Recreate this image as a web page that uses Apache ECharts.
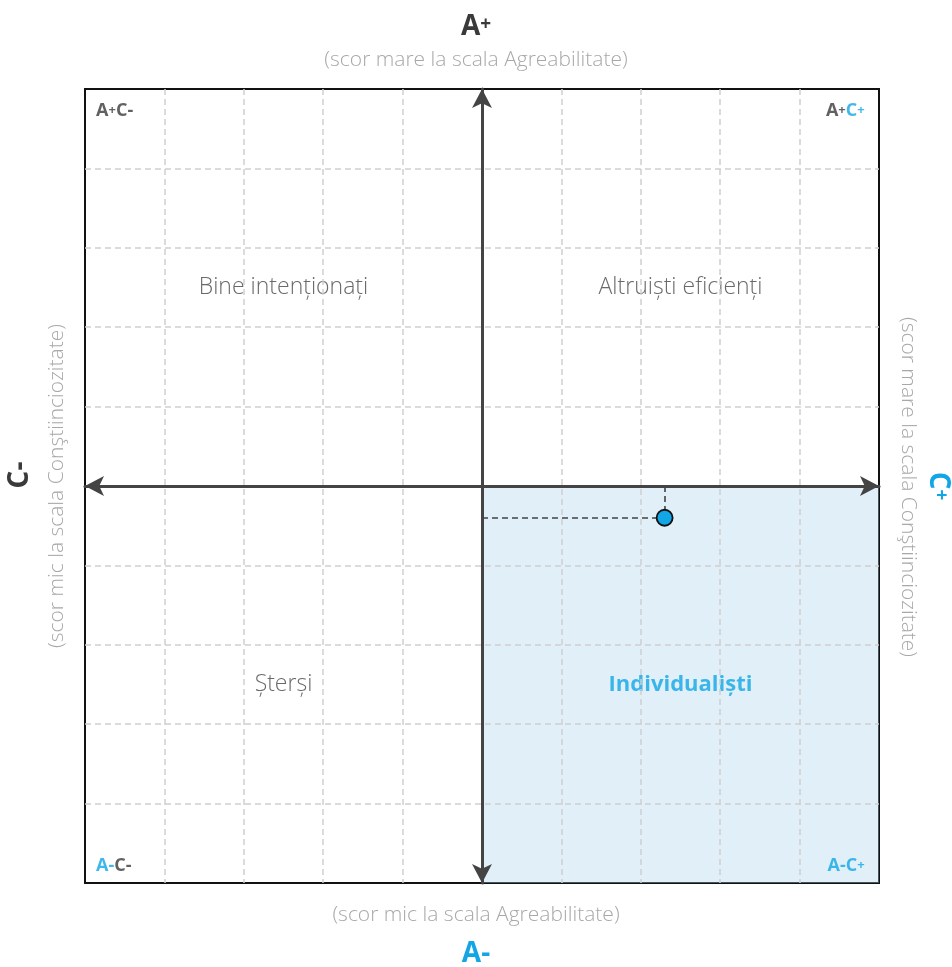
<!DOCTYPE html>
<html>
<head>
<meta charset="utf-8">
<script src="https://cdn.jsdelivr.net/npm/echarts@6/dist/echarts.min.js"></script>
<style>
html, body { margin: 0; padding: 0; background: #fff; }
#main { width: 952px; height: 967px; }
</style>
</head>
<body>
<div id="main"></div>
<script>
// scor (C pe orizontala, A pe verticala), scala -50..50
var scor = [23, -4];
var cadrane = [
	{ name: 'Bine intenționați', value: [-25, 25] },
	{ name: 'Altruiști eficienți', value: [25, 25] },
	{ name: 'Șterși', value: [-25, -25] },
	{ name: 'Individualiști', value: [25, -25], activ: true }
];
var colturi = [
	{ text: '{d|A}{ps|+}{d|C}{m|-}', value: [-48.6, 47.2], align: 'left' },
	{ text: '{d|A}{ps|+}{b|C}{pb|+}', value: [48.2, 47.2], align: 'right' },
	{ text: '{b|A}{mb|-}{d|C}{m|-}', value: [-48.6, -47.9], align: 'left' },
	{ text: '{b|A}{mb|-}{b|C}{pb|+}', value: [48.2, -47.9], align: 'right' }
];

var albastru = '#12a6e6';
var inchis = '#3a3a3a';
var gri = '#a8a8a8';
var font = 'Open Sans';

var cornerRich = {
	d: { fontSize: 18, fontWeight: 'bold', color: inchis, fontFamily: font },
	b: { fontSize: 18, fontWeight: 'bold', color: albastru, fontFamily: font },
	m: { fontSize: 18, fontWeight: 'bold', color: inchis, fontFamily: font },
	mb: { fontSize: 18, fontWeight: 'bold', color: albastru, fontFamily: font },
	ps: { fontSize: 13, fontWeight: 'bold', color: inchis, fontFamily: font, padding: [0, 0, 2, 0] },
	pb: { fontSize: 13, fontWeight: 'bold', color: albastru, fontFamily: font, padding: [0, 0, 2, 0] }
};

var axisCommon = {
	type: 'value',
	min: -50,
	max: 50,
	interval: 10,
	z: 3,
	axisLine: {
		show: true,
		onZero: true,
		symbol: ['arrow', 'arrow'],
		symbolSize: [15, 19],
		lineStyle: { color: '#444', width: 3 }
	},
	axisTick: { show: false },
	axisLabel: { show: false },
	splitLine: {
		show: true,
		showMinLine: false,
		showMaxLine: false,
		lineStyle: { color: '#d0d0d0', type: [6, 4], width: 1.5 }
	}
};

var myChart = echarts.init(document.getElementById('main'));
var option = {
	animation: false,
	textStyle: { fontFamily: font },
	grid: {
		left: 85, top: 89, width: 794, height: 794,
		show: true, borderColor: '#111', borderWidth: 2
	},
	xAxis: axisCommon,
	yAxis: axisCommon,
	title: [
		{
			text: '{a|A}{p|+}', left: 'center', top: 8,
			textStyle: {
				rich: {
					a: { fontSize: 28, fontWeight: 'bold', color: inchis, fontFamily: font },
					p: { fontSize: 19, fontWeight: 'bold', color: inchis, fontFamily: font, padding: [0, 0, 4, 0] }
				}
			}
		},
		{ text: '(scor mare la scala Agreabilitate)', left: 'center', top: 45, textStyle: { fontSize: 21, fontWeight: 300, color: gri, fontFamily: font } },
		{ text: '(scor mic la scala Agreabilitate)', left: 'center', top: 900, textStyle: { fontSize: 21, fontWeight: 300, color: gri, fontFamily: font } },
		{ text: 'A-', left: 'center', top: 935, textStyle: { fontSize: 28, fontWeight: 'bold', color: albastru, fontFamily: font } }
	],
	graphic: [
		{ type: 'text', x: 20, y: 475, rotation: Math.PI / 2, style: { text: 'C-', font: 'bold 28px "' + font + '"', fill: inchis, textAlign: 'center', textVerticalAlign: 'middle' } },
		{ type: 'text', x: 57, y: 486, rotation: Math.PI / 2, style: { text: '(scor mic la scala Conştiinciozitate)', font: '300 21px "' + font + '"', fill: gri, textAlign: 'center', textVerticalAlign: 'middle' } },
		{
			type: 'text', x: 938, y: 486, rotation: -Math.PI / 2,
			style: {
				text: '{a|C}{p|+}', textAlign: 'center', textVerticalAlign: 'middle',
				rich: {
					a: { fontSize: 28, fontWeight: 'bold', fill: albastru, fontFamily: font },
					p: { fontSize: 19, fontWeight: 'bold', fill: albastru, fontFamily: font, padding: [0, 0, 4, 0] }
				}
			}
		},
		{ type: 'text', x: 908, y: 487, rotation: -Math.PI / 2, style: { text: '(scor mare la scala Conştiinciozitate)', font: '300 21px "' + font + '"', fill: gri, textAlign: 'center', textVerticalAlign: 'middle' } }
	],
	series: [
		{
			type: 'scatter',
			z: 1,
			symbolSize: 0,
			data: cadrane.map(function(item) {
				return {
					value: item.value,
					label: {
						show: true,
						position: 'inside',
						formatter: item.name,
						fontSize: item.activ ? 22 : 23,
						fontFamily: font,
						fontWeight: item.activ ? 'bold' : 300,
						color: item.activ ? albastru : '#444'
					}
				};
			}),
			markArea: {
				silent: true,
				itemStyle: { color: 'rgba(169,212,235,0.35)' },
				data: [[{ coord: [0, 0] }, { coord: [50, -50] }]]
			}
		},
		{
			type: 'scatter',
			z: 1,
			symbolSize: 0,
			data: colturi.map(function(item) {
				return {
					value: item.value,
					label: {
						show: true,
						position: 'inside',
						align: item.align,
						formatter: item.text,
						rich: cornerRich
					}
				};
			})
		},
		{
			type: 'scatter',
			z: 5,
			symbolSize: 16,
			itemStyle: { color: albastru, borderColor: '#111', borderWidth: 1.8, opacity: 1 },
			data: [scor],
			markLine: {
				silent: true,
				symbol: 'none',
				label: { show: false },
				lineStyle: { color: '#444', type: [6, 4], width: 1.6 },
				data: [
					[{ coord: [0, scor[1]] }, { coord: [scor[0], scor[1]] }],
					[{ coord: [scor[0], 0] }, { coord: [scor[0], scor[1]] }]
				]
			}
		}
	]
};
myChart.setOption(option, true);
</script>
</body>
</html>
